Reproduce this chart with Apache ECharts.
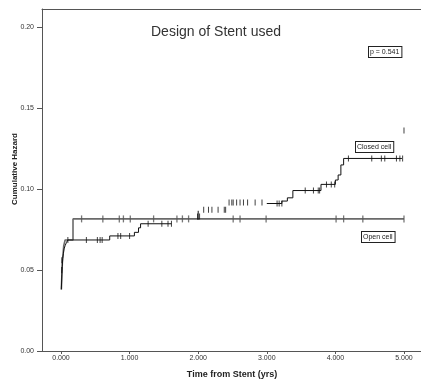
<!DOCTYPE html>
<html><head><meta charset="utf-8">
<script src="https://cdn.jsdelivr.net/npm/echarts@6/dist/echarts.min.js"></script>
<style>html,body{margin:0;padding:0;background:#fff}#c{width:421px;height:385px}</style>
</head><body><div id="c"></div>
<script>
// Closed cell cumulative hazard step points (time yrs, hazard); null = gap
const closedSteps = [
  [0.005,0.038],[0.012,0.047],[0.018,0.052],[0.025,0.057],[0.035,0.060],[0.045,0.063],
  [0.06,0.065],[0.08,0.067],[0.10,0.0685],[0.71,0.071],[1.07,0.0732],[1.13,0.076],
  [1.16,0.0785],[1.61,0.0785],[1.61,null],
  [2.00,0.0810],[2.00,0.0865],[2.00,null],
  [3.00,0.091],[3.22,0.0925],[3.30,0.0945],[3.38,0.099],[3.79,0.1028],[4.00,0.1055],
  [4.04,0.1086],[4.08,0.1148],[4.12,0.1188],[4.97,0.1188]
];
// Closed cell censoring marks
const closedCensor = [
  [0.01,0.050],[0.012,0.056],[0.10,0.0685],[0.37,0.0685],[0.53,0.0685],[0.57,0.0685],[0.60,0.0685],
  [0.83,0.071],[0.87,0.071],[1.00,0.071],
  [1.27,0.0785],[1.47,0.0785],[1.56,0.0785],[1.61,0.0785],
  [1.99,0.083],[2.02,0.083],
  [2.08,0.0872],[2.15,0.0872],[2.20,0.0872],[2.29,0.0872],[2.38,0.0872],[2.40,0.0872],
  [2.45,0.0916],[2.49,0.0916],[2.51,0.0916],[2.56,0.0916],[2.61,0.0916],[2.66,0.0916],
  [2.72,0.0916],[2.83,0.0916],[2.93,0.0916],
  [3.15,0.091],[3.18,0.091],[3.22,0.091],
  [3.56,0.099],[3.68,0.099],[3.75,0.099],[3.77,0.099],
  [3.87,0.1028],[3.94,0.1028],[3.99,0.1028],
  [4.19,0.1188],[4.53,0.1188],[4.67,0.1188],[4.72,0.1188],[4.89,0.1188],[4.94,0.1188],[4.98,0.1188],
  [5.00,0.136]
];
// Open cell step points
const openSteps = [
  [0.005,0.038],[0.02,0.055],[0.04,0.065],[0.06,0.0685],[0.175,0.0815],[5.0,0.0815]
];
// Open cell censoring marks
const openCensor = [
  [0.30,0.0815],[0.61,0.0815],[0.85,0.0815],[0.91,0.0815],[1.01,0.0815],[1.35,0.0815],
  [1.69,0.0815],[1.77,0.0815],[1.86,0.0815],[2.51,0.0815],[2.61,0.0815],[2.99,0.0815],
  [4.01,0.0815],[4.12,0.0815],[4.40,0.0815],[5.0,0.0815]
];
const xTicks = [0,1,2,3,4,5];
const yTicks = [0,0.05,0.10,0.15,0.20];
const titleText = 'Design of Stent used';
const pText = 'p = 0.541';
const closedName = 'Closed cell';
const openName = 'Open cell';

const chart = echarts.init(document.getElementById('c'));
const font = 'Liberation Sans, Arial, sans-serif';
chart.setOption({
  animation:false,
  grid:{left:42,right:0,top:9,bottom:34},
  xAxis:[{
    type:'value',min:-0.277,max:5.248,
    axisLine:{onZero:false,lineStyle:{color:'#555',width:1}},
    axisTick:{customValues:xTicks,length:3,lineStyle:{color:'#555'}},
    axisLabel:{customValues:xTicks,formatter:v=>v.toFixed(3),fontSize:7,color:'#333',fontFamily:font,margin:4},
    splitLine:{show:false}
  },{
    type:'value',position:'top',min:-0.277,max:5.248,
    axisLine:{show:true,onZero:false,lineStyle:{color:'#555',width:1}},
    axisTick:{show:false},axisLabel:{show:false},splitLine:{show:false}
  }],
  yAxis:{
    type:'value',min:0,max:0.211,position:'left',
    axisLine:{show:true,onZero:false,lineStyle:{color:'#555',width:1}},
    axisTick:{customValues:yTicks,length:5,lineStyle:{color:'#555'}},
    axisLabel:{customValues:yTicks,formatter:v=>v.toFixed(2),fontSize:7,color:'#333',fontFamily:font,margin:8},
    splitLine:{show:false}
  },
  graphic:[
    {type:'text',style:{text:titleText,x:216,y:32,align:'center',verticalAlign:'middle',font:'14px '+font,fill:'#333'}},
    {type:'text',style:{text:'Cumulative Hazard',x:0,y:0,align:'center',verticalAlign:'middle',font:'bold 8px '+font,fill:'#222'},x:15,y:169,rotation:Math.PI/2},
    {type:'text',style:{text:'Time from Stent (yrs)',x:232,y:375,align:'center',verticalAlign:'middle',font:'bold 9px '+font,fill:'#222'}},
    {type:'text',style:{text:pText,x:369,y:52,verticalAlign:'middle',font:'7px '+font,fill:'#222',borderColor:'#222',borderWidth:1,padding:[2,2,1,1],backgroundColor:'#fff'}},
    {type:'text',style:{text:closedName,x:356,y:147,verticalAlign:'middle',font:'7px '+font,fill:'#222',borderColor:'#222',borderWidth:1,padding:[2,2,1,1],backgroundColor:'#fff'}},
    {type:'text',style:{text:openName,x:362,y:237,verticalAlign:'middle',font:'7px '+font,fill:'#222',borderColor:'#222',borderWidth:1,padding:[2,2,1,1],backgroundColor:'#fff'}}
  ],
  series:[
    {type:'line',name:openName,step:'end',data:openSteps,showSymbol:false,connectNulls:false,
     lineStyle:{color:'#6a6a6a',width:1.6},z:2},
    {type:'scatter',data:openCensor,symbol:'rect',symbolSize:[1.3,7],itemStyle:{color:'#555'},z:3},
    {type:'line',name:closedName,step:'end',data:closedSteps,showSymbol:false,connectNulls:false,
     lineStyle:{color:'#111',width:1},z:4},
    {type:'scatter',data:closedCensor,symbol:'rect',symbolSize:[1,6],itemStyle:{color:'#111'},z:5}
  ]
});
</script></body></html>
